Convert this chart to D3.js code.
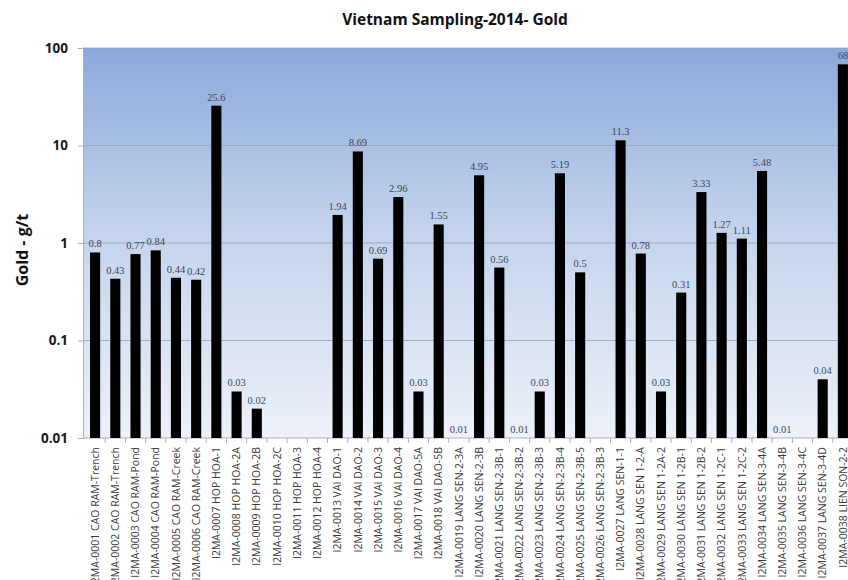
<!DOCTYPE html>
<html>
<head>
<meta charset="utf-8">
<script src="https://cdn.jsdelivr.net/npm/d3@7"></script>
<style>
html,body{margin:0;padding:0;background:#fff;}
svg{display:block;}
</style>
</head>
<body>
<svg id="chart" width="848" height="580"></svg>
<script>
const title = "Vietnam Sampling-2014- Gold";
const yTitle = "Gold - g/t";
const categories = [
  "I2MA-0001 CAO RAM-Trench","I2MA-0002 CAO RAM-Trench","I2MA-0003 CAO RAM-Pond","I2MA-0004 CAO RAM-Pond",
  "I2MA-0005 CAO RAM-Creek","I2MA-0006 CAO RAM-Creek","I2MA-0007 HOP HOA-1","I2MA-0008 HOP HOA-2A",
  "I2MA-0009 HOP HOA-2B","I2MA-0010 HOP HOA-2C","I2MA-0011 HOP HOA-3","I2MA-0012 HOP HOA-4",
  "I2MA-0013 VAI DAO-1","I2MA-0014 VAI DAO-2","I2MA-0015 VAI DAO-3","I2MA-0016 VAI DAO-4",
  "I2MA-0017 VAI DAO-5A","I2MA-0018 VAI DAO-5B","I2MA-0019 LANG SEN-2-3A","I2MA-0020 LANG SEN-2-3B",
  "I2MA-0021 LANG SEN-2-3B-1","I2MA-0022 LANG SEN-2-3B-2","I2MA-0023 LANG SEN-2-3B-3","I2MA-0024 LANG SEN-2-3B-4",
  "I2MA-0025 LANG SEN-2-3B-5","I2MA-0026 LANG SEN-2-3B-3","I2MA-0027 LANG SEN-1-1","I2MA-0028 LANG SEN 1-2-A",
  "I2MA-0029 LANG SEN 1-2A-2","I2MA-0030 LANG SEN 1-2B-1","I2MA-0031 LANG SEN 1-2B-2","I2MA-0032 LANG SEN 1-2C-1",
  "I2MA-0033 LANG SEN 1-2C-2","I2MA-0034 LANG SEN-3-4A","I2MA-0035 LANG SEN-3-4B","I2MA-0036 LANG SEN-3-4C",
  "I2MA-0037 LANG SEN-3-4D","I2MA-0038 LIEN SON-2-2"
];
const goldValues = [
  0.8,0.43,0.77,0.84,0.44,0.42,25.6,0.03,
  0.02,null,null,null,
  1.94,8.69,0.69,2.96,
  0.03,1.55,0.01,4.95,
  0.56,0.01,0.03,5.19,
  0.5,null,11.3,0.78,
  0.03,0.31,3.33,1.27,
  1.11,5.48,0.01,null,
  0.04,68
];
const yTicks = [0.01,0.1,1,10,100];
const yTickLabels = ["0.01","0.1","1","10","100"];

const svg = d3.select("#chart");
const plot = {left:83, right:848, top:48, bottom:438};

const x = d3.scaleBand().domain(categories).range([85, 853]).paddingInner(0.5).paddingOuter(0.25);
const y = d3.scaleLog().domain([0.01,100]).range([plot.bottom, plot.top]);

const defs = svg.append("defs");
const grad = defs.append("linearGradient").attr("id","bg").attr("x1",0).attr("y1",0).attr("x2",0).attr("y2",1);
grad.append("stop").attr("offset","0%").attr("stop-color","#8aa9da");
grad.append("stop").attr("offset","45%").attr("stop-color","#c2d2ec");
grad.append("stop").attr("offset","100%").attr("stop-color","#edf1f9");

svg.append("rect").attr("x",plot.left).attr("y",plot.top)
  .attr("width",plot.right-plot.left).attr("height",plot.bottom-plot.top)
  .attr("fill","url(#bg)");

// gridlines
svg.append("g").selectAll("line").data(yTicks.slice(1)).join("line")
  .attr("x1",plot.left).attr("x2",plot.right)
  .attr("y1",d=>y(d)).attr("y2",d=>y(d))
  .attr("stroke","#9aa3b3").attr("stroke-width",1).attr("opacity",0.8);

// y axis
const yAxis = d3.axisLeft(y).tickValues(yTicks).tickFormat((d,i)=>yTickLabels[i]).tickSize(5).tickPadding(10);
const gy = svg.append("g").attr("transform",`translate(${plot.left},0)`).call(yAxis);
gy.select(".domain").attr("stroke","#b0b0b0");
gy.selectAll(".tick line").attr("stroke","#b0b0b0");
gy.selectAll("text").attr("font-family","Open Sans, sans-serif").attr("font-weight","bold")
  .attr("font-size","13.5px").attr("fill","#1a1a1a");

// x axis
const xAxis = d3.axisBottom(x).tickSize(0).tickPadding(8);
const gx = svg.append("g").attr("transform",`translate(0,${plot.bottom})`).call(xAxis);
gx.select(".domain").remove();
gx.append("line").attr("x1",plot.left).attr("x2",plot.right).attr("y1",0).attr("y2",0).attr("stroke","#b0b0b0");
gx.selectAll(".tick text")
  .attr("font-family","Open Sans, sans-serif").attr("font-size","10.5px").attr("fill","#3a3a3a")
  .attr("text-anchor","end").attr("dy","0.35em")
  .attr("transform","rotate(-90)")
  .attr("x",-9).attr("y",0);
// separators between categories
const step = x.step();
svg.append("g").selectAll("line").data(categories).join("line")
  .attr("x1",d=>x(d)+x.bandwidth()/2+step/2).attr("x2",d=>x(d)+x.bandwidth()/2+step/2)
  .attr("y1",plot.bottom).attr("y2",plot.bottom+5).attr("stroke","#b0b0b0");

// bars
const rows = categories.map((c,i)=>({c, v:goldValues[i]}));
svg.append("g").selectAll("rect").data(rows.filter(d=>d.v!=null)).join("rect")
  .attr("x",d=>x(d.c)).attr("width",x.bandwidth())
  .attr("y",d=>y(d.v)).attr("height",d=>plot.bottom-y(d.v))
  .attr("fill","#000");

// data labels
svg.append("g").selectAll("text").data(rows.filter(d=>d.v!=null)).join("text")
  .attr("x",d=>x(d.c)+x.bandwidth()/2).attr("y",d=>y(d.v)-5)
  .attr("text-anchor","middle")
  .attr("font-family","Liberation Serif, serif").attr("font-size","10.5px").attr("fill","#3b4760")
  .text(d=>String(d.v));

// title
svg.append("text").attr("x",455).attr("y",25).attr("text-anchor","middle")
  .attr("font-family","Open Sans, sans-serif").attr("font-weight","bold").attr("font-size","15.5px")
  .attr("fill","#111").text(title);

// y title
svg.append("text").attr("transform","translate(28,250) rotate(-90)").attr("text-anchor","middle")
  .attr("font-family","Open Sans, sans-serif").attr("font-weight","bold").attr("font-size","16px")
  .attr("fill","#111").text(yTitle);
</script>
</body>
</html>
